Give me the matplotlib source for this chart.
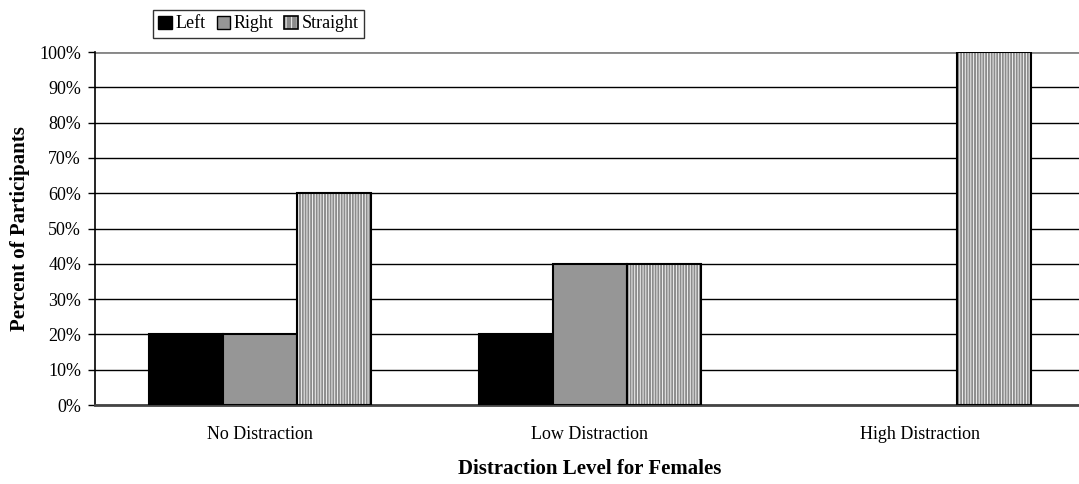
import matplotlib.pyplot as plt
import numpy as np
from matplotlib.patches import Patch
from matplotlib.ticker import PercentFormatter

plt.rcParams['font.family'] = ['Liberation Serif', 'DejaVu Serif']
plt.rcParams['hatch.linewidth'] = 0.6

categories = ["No Distraction", "Low Distraction", "High Distraction"]
left = [20, 20, 0]
right = [20, 40, 0]
straight = [60, 40, 100]

fig = plt.figure(figsize=(10.79, 4.84), dpi=100)
ax = fig.add_axes([95 / 1079, 79 / 484, 990 / 1079, 353 / 484])

x = np.arange(len(categories))
w = 0.224

def lw(vals):
    # no outline for empty bars
    return [1.5 if v else 0 for v in vals]

ax.bar(x - w, left, w, color='black', edgecolor='black', linewidth=lw(left), zorder=3)
ax.bar(x, right, w, color='#969696', edgecolor='black', linewidth=lw(right), zorder=3)
# striped bars: gray face with white hatch, then black outline on top
ax.bar(x + w, straight, w, facecolor='#8c8c8c', edgecolor='white', hatch='||||||', linewidth=0, zorder=3)
ax.bar(x + w, straight, w, facecolor='none', edgecolor='black', linewidth=lw(straight), zorder=4)

ax.set_xlim(-0.5, 2.5)
ax.set_ylim(0, 100)
ax.set_yticks(range(0, 101, 10))
ax.yaxis.set_major_formatter(PercentFormatter(decimals=0))
ax.set_xticks(x)
ax.set_xticklabels(categories)
ax.tick_params(axis='x', length=0, pad=15, labelsize=13)
ax.tick_params(axis='y', length=5, width=1, labelsize=13, direction='out', pad=5)

ax.yaxis.grid(True, color='black', linewidth=1)
ax.set_axisbelow(True)
ax.axhline(100, color='#888888', linewidth=2, zorder=2)

for s in ['top', 'right']:
    ax.spines[s].set_visible(False)
ax.spines['left'].set_linewidth(1.2)
ax.spines['bottom'].set_linewidth(2)
ax.spines['bottom'].set_color('#444444')

ax.set_ylabel("Percent of Participants", fontsize=15, fontweight='bold', labelpad=7)
ax.set_xlabel("Distraction Level for Females", fontsize=15, fontweight='bold', labelpad=12)

handles = [Patch(facecolor='black', edgecolor='black'),
           Patch(facecolor='#969696', edgecolor='black'),
           (Patch(facecolor='#8c8c8c', edgecolor='white', hatch='|||', linewidth=0),
            Patch(facecolor='none', edgecolor='black', linewidth=1.2))]
leg = fig.legend(handles=handles, labels=['Left', 'Right', 'Straight'], loc='upper left',
                 bbox_to_anchor=(153 / 1079, 1 - 10 / 484),
                 ncol=3, frameon=True, fancybox=False, fontsize=13, handlelength=0.75,
                 handleheight=0.75, handletextpad=0.2, columnspacing=0.6, borderpad=0.3,
                 borderaxespad=0)
leg.get_frame().set_edgecolor('black')
leg.get_frame().set_linewidth(1)

fig.savefig('out.png', dpi=100)
